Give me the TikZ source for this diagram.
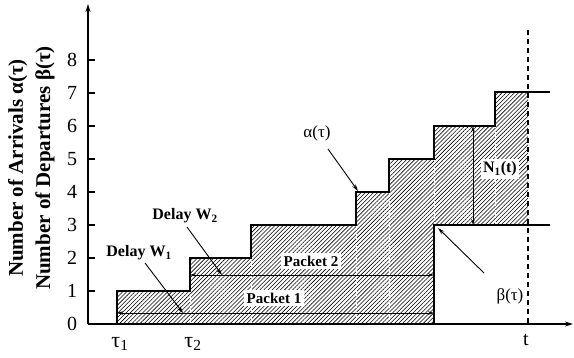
\documentclass[tikz,border=0pt]{standalone}
\usepackage{fontspec}
\setmainfont{Liberation Serif}
\usetikzlibrary{patterns.meta,arrows.meta}

\begin{document}
\begin{tikzpicture}[x=1pt,y=-1pt,
  curve/.style={line width=1.3pt},
  axis/.style={line width=1.2pt,-{Stealth[length=8pt,width=5pt]}},
  dim/.style={line width=0.9pt,{Stealth[length=6pt,width=3.5pt]}-{Stealth[length=6pt,width=3.5pt]}},
  pointer/.style={line width=0.9pt,-{Stealth[length=7pt,width=4pt]}},
  hatch/.style={pattern={Lines[angle=45,distance=2.9pt,line width=0.55pt]}},
  seam/.style={white,line width=0.45pt,dash pattern=on 1.5pt off 1.5pt},
  tag/.style={fill=white,inner sep=2.5pt,font=\bfseries\fontsize{15}{15}\selectfont},
  note/.style={font=\bfseries\fontsize{16}{16}\selectfont},
  plain/.style={font=\fontsize{17}{17}\selectfont},
  num/.style={font=\fontsize{20}{20}\selectfont},
  ylab/.style={rotate=90,anchor=base,font=\bfseries\fontsize{21}{21}\selectfont}]
\useasboundingbox (0,0) rectangle (574,357);

% area between the arrival and departure curves, up to time t
\fill[hatch] (117,324) -- (117,291) -- (190,291) -- (190,258) -- (251,258)
  -- (251,225) -- (356,225) -- (356,192) -- (389,192) -- (389,159)
  -- (434,159) -- (434,126) -- (495,126) -- (495,92) -- (528,92)
  -- (528,225) -- (434,225) -- (434,324) -- cycle;

% faint seams where the arrival steps continue downwards
\draw[seam] (190,291) -- (190,324);
\draw[seam] (251,258) -- (251,324);
\draw[seam] (356,225) -- (356,324);
\draw[seam] (389,192) -- (389,324);
\draw[seam] (434,159) -- (434,225);
\draw[seam] (495,126) -- (495,225);

% axes
\coordinate (O) at (88,324);
\coordinate (xend) at (573,324);
\coordinate (yend) at (88,4);
\draw[axis] (O) -- (xend);
\draw[axis] (O) -- (yend);
\foreach \k in {1,...,8} \draw[line width=1.2pt] (88,324-33*\k) -- (95,324-33*\k);
\foreach \k in {0,...,8} \node[num] (n\k) at (72,324-33*\k) {\k};

\node[ylab] (ya) at (23,168) {Number of Arrivals α(τ)};
\node[ylab] (yb) at (50,168) {Number of Departures β(τ)};

\node[num,font=\fontsize{22}{22}\selectfont] (t1) at (120,344) {τ\textsubscript{1}};
\node[num,font=\fontsize{22}{22}\selectfont] (t2) at (193,344) {τ\textsubscript{2}};
\node[num] (tt) at (526,340) {t};

% time t
\coordinate (ttop) at (528,30);
\coordinate (tbot) at (528,324);
\draw[line width=1.2pt,dash pattern=on 5pt off 4pt] (ttop) -- (tbot);

% arrival curve alpha and departure curve beta
\draw[curve] (117,324) -- (117,291) -- (190,291) -- (190,258) -- (251,258)
  -- (251,225) -- (356,225) -- (356,192) -- (389,192) -- (389,159)
  -- (434,159) -- (434,126) -- (495,126) -- (495,92) -- (550,92);
\draw[curve] (434,324) -- (434,225) -- (550,225);

% packet delays
\coordinate (p1a) at (117,313);
\coordinate (p1b) at (434,313);
\coordinate (p2a) at (190,275);
\coordinate (p2b) at (434,275);
\draw[dim] (p1a) -- (p1b);
\draw[dim] (p2a) -- (p2b);
\node[tag] (pk1) at (274,298) {Packet 1};
\node[tag] (pk2) at (311,261) {Packet 2};

\node[note] (w1) at (139,253) {Delay W\textsubscript{1}};
\node[note] (w2) at (185,216) {Delay W\textsubscript{2}};
\coordinate (w1tip) at (183,313);
\coordinate (w2tip) at (222,275);
\draw[pointer] (145,263) -- (w1tip);
\draw[pointer] (187,227) -- (w2tip);

% backlog N1(t)
\coordinate (na) at (473,126);
\coordinate (nb) at (473,225);
\draw[dim] (na) -- (nb);
\node[tag,font=\bfseries\fontsize{16}{16}\selectfont] (N1) at (500,169) {N\textsubscript{1}(t)};

% curve labels
\node[plain] (al) at (317,133) {α(τ)};
\coordinate (altip) at (358,191);
\draw[pointer] (328,149) -- (altip);
\node[plain] (be) at (510,296) {β(τ)};
\coordinate (betip) at (438,228);
\draw[pointer] (484,273) -- (betip);
\end{tikzpicture}
\end{document}
